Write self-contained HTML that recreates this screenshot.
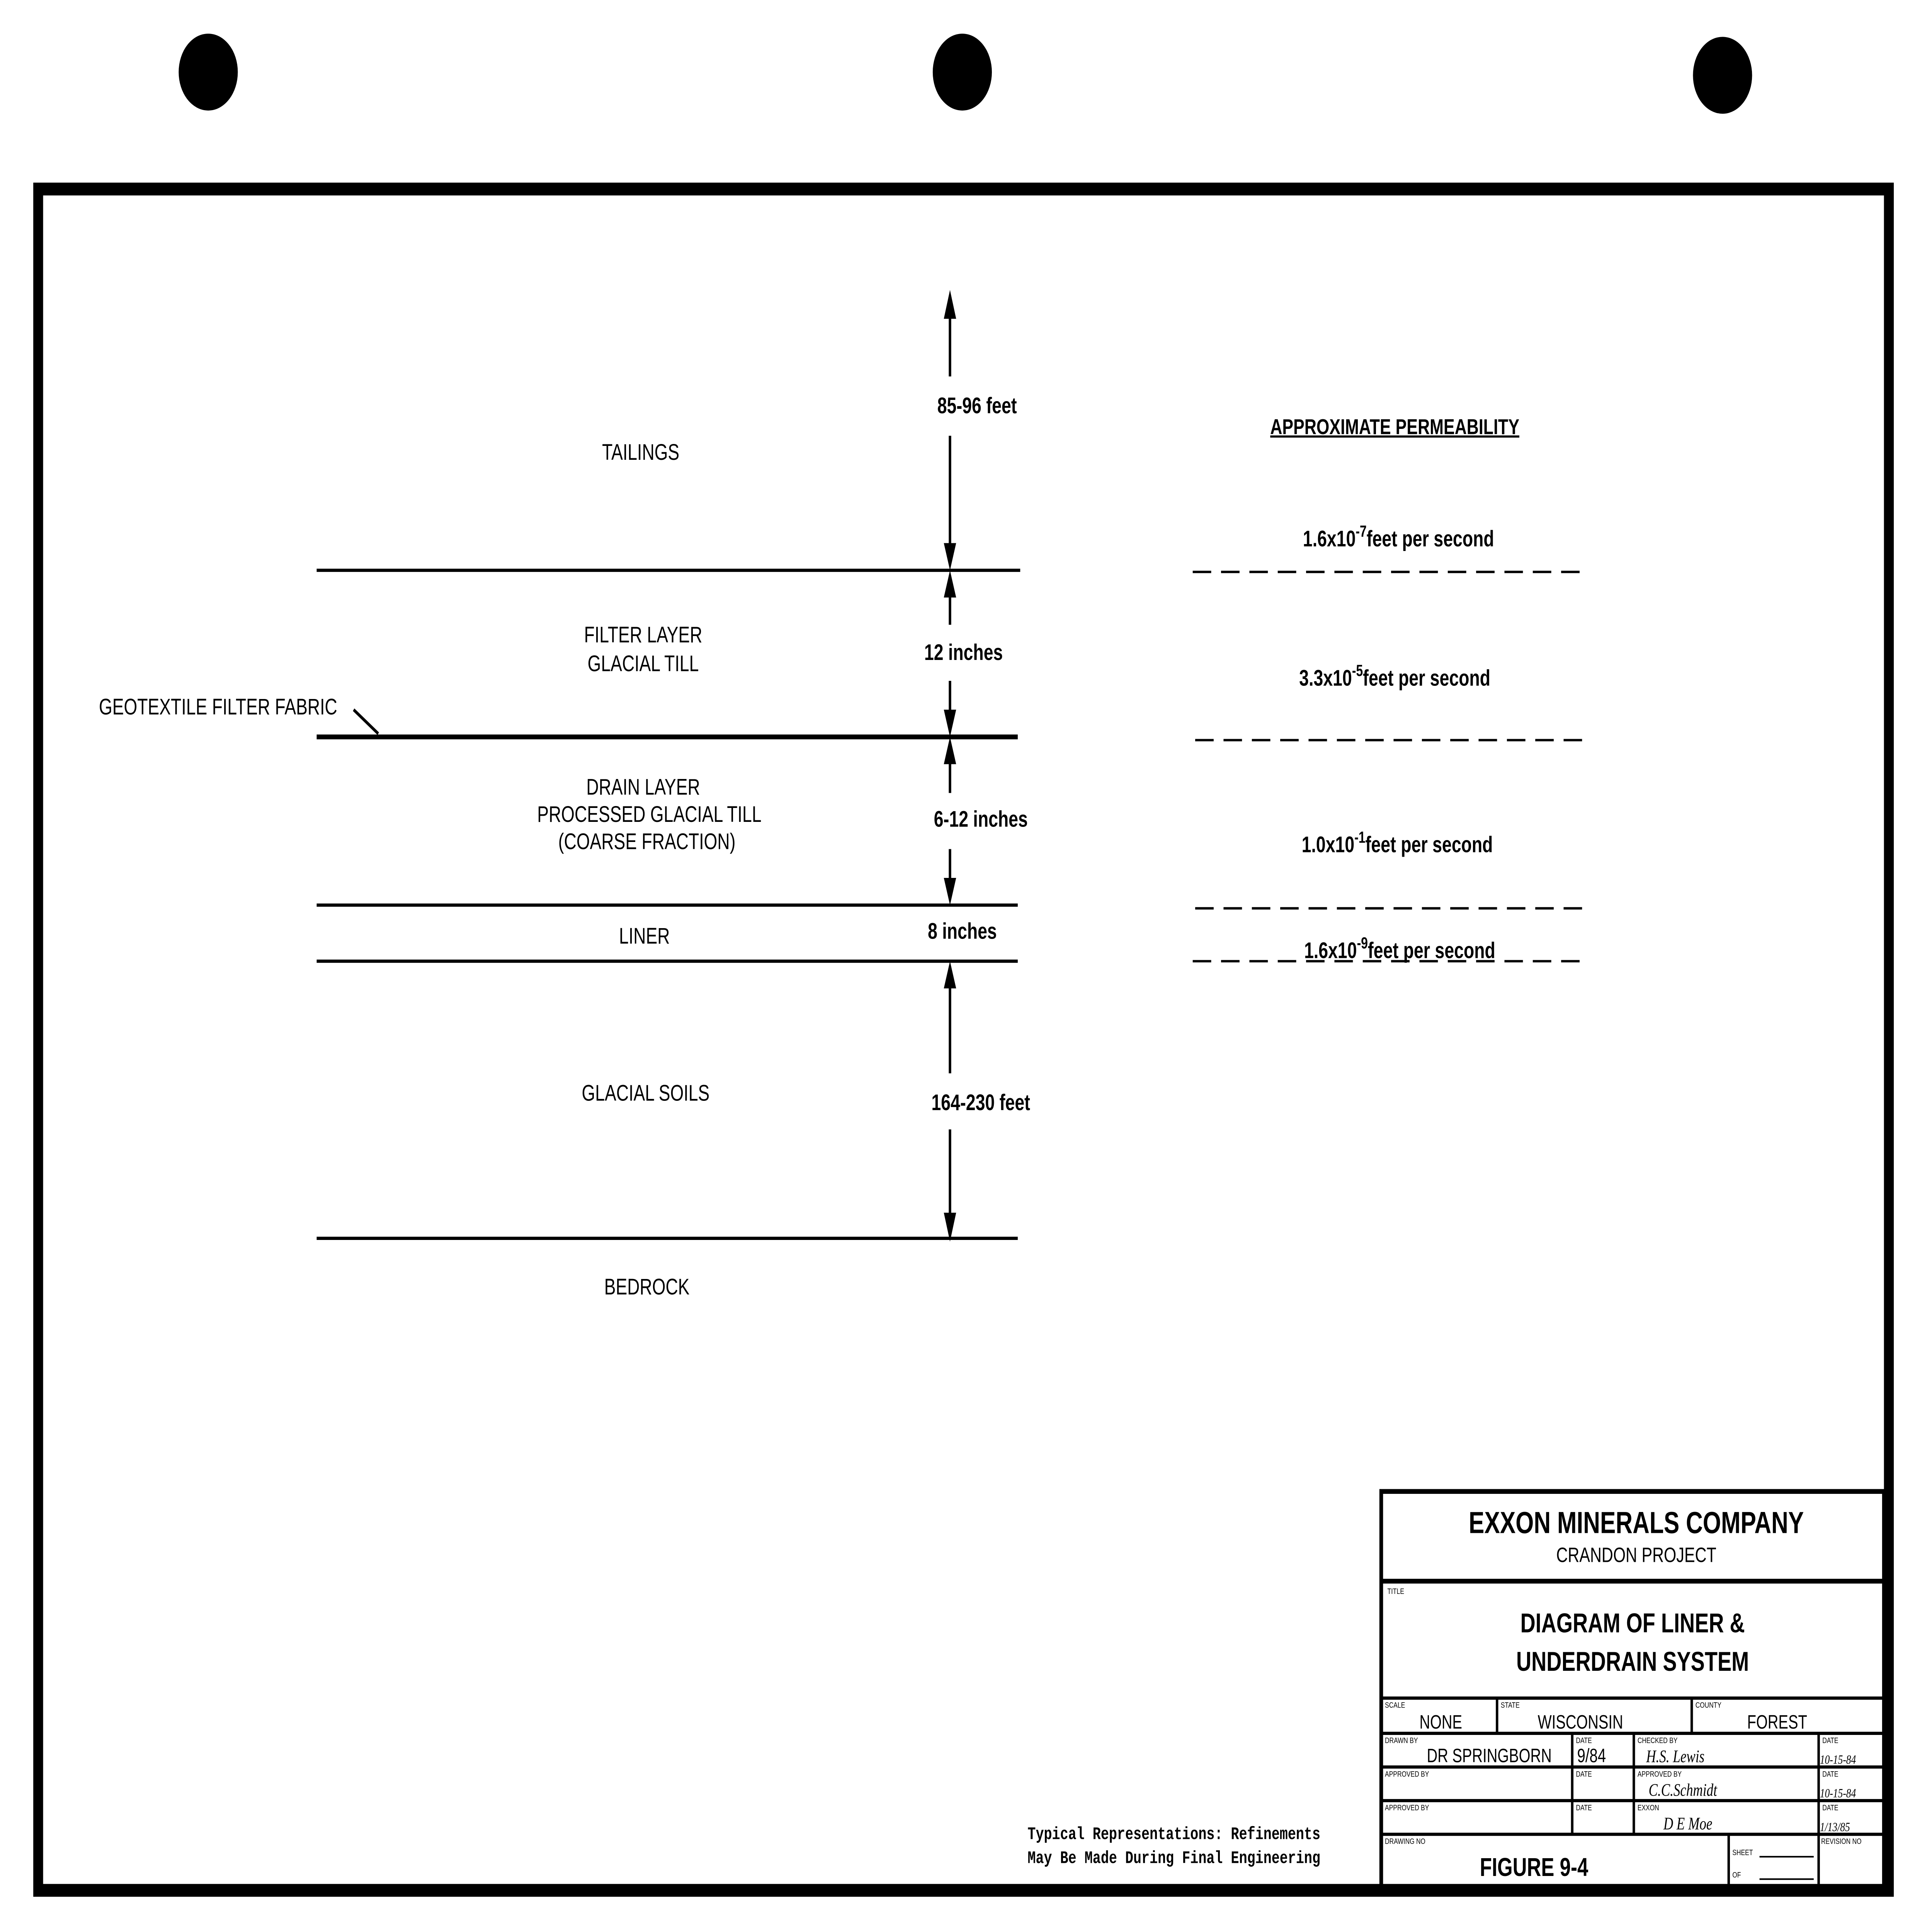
<!DOCTYPE html>
<html><head><meta charset="utf-8"><style>
html,body{margin:0;padding:0;background:#fff;width:100vw;height:100vh;overflow:hidden}
svg{display:block;width:100vw;height:100vh;position:absolute;left:0;top:0}
text{font-family:"Liberation Sans",sans-serif;fill:#000}
</style></head><body>
<svg viewBox="0 0 1568 1206" preserveAspectRatio="none" xmlns="http://www.w3.org/2000/svg">
<rect width="1568" height="1206" fill="#fff"/>
<circle cx="169" cy="45" r="24" fill="#000"/>
<circle cx="781" cy="45" r="24" fill="#000"/>
<circle cx="1398" cy="47" r="24" fill="#000"/>
<rect x="31" y="118" width="1502" height="1062" fill="none" stroke="#000" stroke-width="8"/>
<g stroke="#000" stroke-width="2">
<line x1="257" y1="356" x2="828" y2="356"/>
<line x1="257" y1="460" x2="826" y2="460" stroke-width="3"/>
<line x1="257" y1="565" x2="826" y2="565"/>
<line x1="257" y1="600" x2="826" y2="600"/>
<line x1="257" y1="773" x2="826" y2="773"/>
<line x1="771" y1="190" x2="771" y2="235"/>
<line x1="771" y1="272" x2="771" y2="350"/>
<line x1="771" y1="362" x2="771" y2="390"/>
<line x1="771" y1="425" x2="771" y2="455"/>
<line x1="771" y1="466" x2="771" y2="495"/>
<line x1="771" y1="530" x2="771" y2="560"/>
<line x1="771" y1="606" x2="771" y2="670"/>
<line x1="771" y1="705" x2="771" y2="768"/>
<line x1="287" y1="443" x2="307" y2="458"/>
</g>
<g fill="#000">
<polygon points="771,181 766,199 776,199"/>
<polygon points="771,356 766,339 776,339"/>
<polygon points="771,356 766,373 776,373"/>
<polygon points="771,460 766,443 776,443"/>
<polygon points="771,460 766,477 776,477"/>
<polygon points="771,565 766,548 776,548"/>
<polygon points="771,600 766,617 776,617"/>
<polygon points="771,775 766,757 776,757"/>
</g>
<g stroke="#000" stroke-width="1.5" stroke-dasharray="15,8">
<line x1="968" y1="357" x2="1290" y2="357"/>
<line x1="970" y1="462" x2="1290" y2="462"/>
<line x1="970" y1="567" x2="1290" y2="567"/>
<line x1="968" y1="600" x2="1290" y2="600"/>
</g>
<g font-size="14" text-anchor="middle">
<text x="520" y="287">TAILINGS</text>
<text x="522" y="401">FILTER LAYER</text>
<text x="522" y="419">GLACIAL TILL</text>
<text x="522" y="496">DRAIN LAYER</text>
<text x="527" y="513">PROCESSED GLACIAL TILL</text>
<text x="525" y="530">(COARSE FRACTION)</text>
<text x="523" y="589">LINER</text>
<text x="524" y="687">GLACIAL SOILS</text>
<text x="525" y="808">BEDROCK</text>
<text x="177" y="446">GEOTEXTILE FILTER FABRIC</text>
<text x="1132" y="271" font-weight="bold" font-size="13.5" text-decoration="underline">APPROXIMATE PERMEABILITY</text>
</g>
<g font-size="14" text-anchor="middle" font-weight="bold">
<text x="793" y="258">85-96 feet</text>
<text x="782" y="412">12 inches</text>
<text x="796" y="516">6-12 inches</text>
<text x="781" y="586">8 inches</text>
<text x="796" y="693">164-230 feet</text>
<text x="1135" y="341">1.6x10<tspan dy="-6" font-size="10">-7</tspan><tspan dy="6">feet per second</tspan></text>
<text x="1132" y="428">3.3x10<tspan dy="-6" font-size="10">-5</tspan><tspan dy="6">feet per second</tspan></text>
<text x="1134" y="532">1.0x10<tspan dy="-6" font-size="10">-1</tspan><tspan dy="6">feet per second</tspan></text>
<text x="1136" y="598">1.6x10<tspan dy="-6" font-size="10">-9</tspan><tspan dy="6">feet per second</tspan></text>
</g>
<g font-size="11" font-weight="bold">
<text x="834" y="1148" style="font-family:'Liberation Mono',monospace">Typical Representations:  Refinements</text>
<text x="834" y="1163" style="font-family:'Liberation Mono',monospace">May Be Made During Final Engineering</text>
</g>
<g stroke="#000" fill="none">
<rect x="1121" y="931" width="408" height="249" stroke-width="3"/>
<line x1="1121" y1="987" x2="1529" y2="987" stroke-width="3"/>
<line x1="1121" y1="1060" x2="1529" y2="1060" stroke-width="2"/>
<line x1="1121" y1="1082" x2="1529" y2="1082" stroke-width="2"/>
<line x1="1121" y1="1103" x2="1529" y2="1103" stroke-width="2"/>
<line x1="1121" y1="1124" x2="1529" y2="1124" stroke-width="2"/>
<line x1="1121" y1="1145" x2="1529" y2="1145" stroke-width="2"/>
<line x1="1215" y1="1060" x2="1215" y2="1082" stroke-width="2"/>
<line x1="1373" y1="1060" x2="1373" y2="1082" stroke-width="2"/>
<line x1="1276" y1="1082" x2="1276" y2="1145" stroke-width="2"/>
<line x1="1326" y1="1082" x2="1326" y2="1145" stroke-width="2"/>
<line x1="1476" y1="1082" x2="1476" y2="1180" stroke-width="2"/>
<line x1="1403" y1="1145" x2="1403" y2="1180" stroke-width="2"/>
<line x1="1428" y1="1159" x2="1472" y2="1159" stroke-width="1"/>
<line x1="1428" y1="1173" x2="1472" y2="1173" stroke-width="1"/>
</g>
<g text-anchor="middle" font-weight="bold">
<text x="1328" y="957" font-size="19">EXXON MINERALS COMPANY</text>
<text x="1328" y="975" font-size="13" font-weight="normal">CRANDON PROJECT</text>
<text x="1325" y="1019" font-size="17">DIAGRAM OF LINER &amp;</text>
<text x="1325" y="1043" font-size="17">UNDERDRAIN SYSTEM</text>
<text x="1245" y="1171" font-size="16">FIGURE 9-4</text>
</g>
<g font-size="12">
<text x="1152" y="1079">NONE</text>
<text x="1248" y="1079">WISCONSIN</text>
<text x="1418" y="1079">FOREST</text>
<text x="1158" y="1100">DR SPRINGBORN</text>
<text x="1280" y="1100">9/84</text>
</g>
<g font-size="5">
<text x="1126" y="995">TITLE</text>
<text x="1124" y="1066">SCALE</text><text x="1218" y="1066">STATE</text><text x="1376" y="1066">COUNTY</text>
<text x="1124" y="1088">DRAWN BY</text><text x="1279" y="1088">DATE</text><text x="1329" y="1088">CHECKED BY</text><text x="1479" y="1088">DATE</text>
<text x="1124" y="1109">APPROVED BY</text><text x="1279" y="1109">DATE</text><text x="1329" y="1109">APPROVED BY</text><text x="1479" y="1109">DATE</text>
<text x="1124" y="1130">APPROVED BY</text><text x="1279" y="1130">DATE</text><text x="1329" y="1130">EXXON</text><text x="1479" y="1130">DATE</text>
<text x="1124" y="1151">DRAWING NO</text><text x="1406" y="1158">SHEET</text><text x="1406" y="1172">OF</text><text x="1478" y="1151">REVISION NO</text>
</g>
<g font-size="11" font-style="italic">
<text x="1336" y="1100" style="font-family:'Liberation Serif',serif">H.S. Lewis</text>
<text x="1338" y="1121" style="font-family:'Liberation Serif',serif">C.C.Schmidt</text>
<text x="1350" y="1142" style="font-family:'Liberation Serif',serif">D E Moe</text>
<text x="1477" y="1101" font-size="8" style="font-family:'Liberation Serif',serif">10-15-84</text>
<text x="1477" y="1122" font-size="8" style="font-family:'Liberation Serif',serif">10-15-84</text>
<text x="1477" y="1143" font-size="8" style="font-family:'Liberation Serif',serif">1/13/85</text>
</g>
</svg>
</body></html>
